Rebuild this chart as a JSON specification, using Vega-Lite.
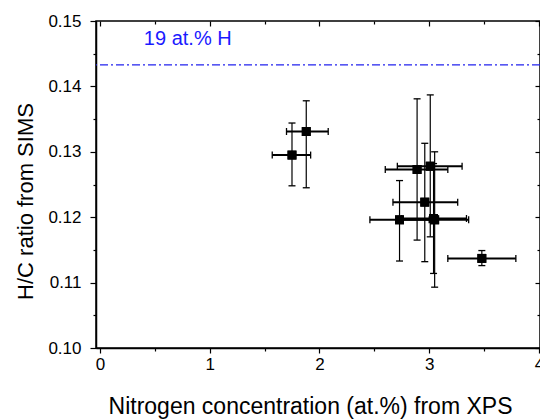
{
  "$schema": "https://vega.github.io/schema/vega-lite/v6.json",
  "width": 444,
  "height": 327,
  "autosize": {"type": "none"},
  "padding": {"left": 96, "top": 21, "right": 0, "bottom": 71},
  "background": "white",
  "datasets": {
    "pts": [
      {"n": 1.75, "hc": 0.1295, "nlo": 1.57, "nhi": 1.92, "hclo": 0.1248, "hchi": 0.1344},
      {"n": 1.88, "hc": 0.1331, "nlo": 1.70, "nhi": 2.08, "hclo": 0.1245, "hchi": 0.1378},
      {"n": 2.89, "hc": 0.1273, "nlo": 2.60, "nhi": 3.17, "hclo": 0.1165, "hchi": 0.1381},
      {"n": 3.01, "hc": 0.1278, "nlo": 2.71, "nhi": 3.30, "hclo": 0.1170, "hchi": 0.1387},
      {"n": 2.96, "hc": 0.1223, "nlo": 2.67, "nhi": 3.26, "hclo": 0.1132, "hchi": 0.1313},
      {"n": 2.73, "hc": 0.1196, "nlo": 2.46, "nhi": 3.00, "hclo": 0.1133, "hchi": 0.1256},
      {"n": 3.05, "hc": 0.1196, "nlo": 2.74, "nhi": 3.36, "hclo": 0.1093, "hchi": 0.1300},
      {"n": 3.04, "hc": 0.1198, "nlo": 2.75, "nhi": 3.34, "hclo": 0.1114, "hchi": 0.1282},
      {"n": 3.48, "hc": 0.1137, "nlo": 3.17, "nhi": 3.79, "hclo": 0.1126, "hchi": 0.1149}
    ],
    "ref": [
      {"h": 0.1433, "label": "19 at.% H", "lx": 0.40, "ly": 0.1463}
    ]
  },
  "data": {"name": "pts"},
  "config": {
    "view": {"stroke": "black", "strokeWidth": 1.5},
    "axis": {
      "grid": false,
      "domainColor": "black",
      "domainWidth": 1.5,
      "tickColor": "black",
      "tickWidth": 1.2,
      "labelFont": "Liberation Sans",
      "labelFontSize": 17,
      "labelColor": "black",
      "titleFont": "Liberation Sans",
      "titleFontSize": 22,
      "titleFontWeight": "normal",
      "titleColor": "black"
    }
  },
  "resolve": {"axis": {"x": "independent", "y": "independent"}},
  "layer": [
    {
      "mark": {"type": "point", "shape": "square", "filled": true, "color": "black", "size": 80, "opacity": 1},
      "encoding": {
        "x": {
          "field": "n", "type": "quantitative",
          "scale": {"domain": [-0.036, 4.01], "nice": false, "zero": false},
          "axis": {
            "orient": "bottom",
            "title": "Nitrogen concentration (at.%) from XPS",
            "titleFontSize": 23,
            "values": [0, 0.5, 1, 1.5, 2, 2.5, 3, 3.5, 4],
            "labelExpr": "datum.value % 1 === 0 ? format(datum.value, 'd') : ''",
            "tickSize": {"condition": {"test": "datum.value % 1 === 0", "value": 5}, "value": 3},
            "labelPadding": 3,
            "labelFlush": false,
            "labelOverlap": false,
            "titleX": 214,
            "titleY": 65,
            "titleBaseline": "alphabetic"
          }
        },
        "y": {
          "field": "hc", "type": "quantitative",
          "scale": {"domain": [0.1, 0.15], "nice": false, "zero": false},
          "axis": {
            "orient": "left",
            "title": "H/C ratio from SIMS",
            "values": [0.1, 0.105, 0.11, 0.115, 0.12, 0.125, 0.13, 0.135, 0.14, 0.145, 0.15],
            "labelExpr": "abs(datum.value*100 - round(datum.value*100)) < 0.000001 ? format(datum.value, '.2f') : ''",
            "tickSize": {"condition": {"test": "abs(datum.value*100 - round(datum.value*100)) < 0.000001", "value": 6}, "value": 3},
            "labelPadding": 9,
            "labelFlush": false,
            "labelOverlap": false,
            "titleX": -64,
            "titleY": 180,
            "titleBaseline": "alphabetic"
          }
        }
      }
    },
    {
      "mark": {"type": "rule", "color": "black", "strokeWidth": 1.2},
      "encoding": {
        "x": {"field": "n", "type": "quantitative", "axis": null},
        "y": {"field": "hclo", "type": "quantitative", "axis": null},
        "y2": {"field": "hchi"}
      }
    },
    {
      "mark": {"type": "rule", "color": "black", "strokeWidth": 2},
      "encoding": {
        "y": {"field": "hc", "type": "quantitative", "axis": null},
        "x": {"field": "nlo", "type": "quantitative", "axis": null},
        "x2": {"field": "nhi"}
      }
    },
    {
      "mark": {"type": "tick", "orient": "horizontal", "color": "black", "size": 7, "thickness": 1.3, "opacity": 1},
      "encoding": {
        "x": {"field": "n", "type": "quantitative", "axis": null},
        "y": {"field": "hclo", "type": "quantitative", "axis": null}
      }
    },
    {
      "mark": {"type": "tick", "orient": "horizontal", "color": "black", "size": 7, "thickness": 1.3, "opacity": 1},
      "encoding": {
        "x": {"field": "n", "type": "quantitative", "axis": null},
        "y": {"field": "hchi", "type": "quantitative", "axis": null}
      }
    },
    {
      "mark": {"type": "tick", "orient": "vertical", "color": "black", "size": 7, "thickness": 1.3, "opacity": 1},
      "encoding": {
        "x": {"field": "nlo", "type": "quantitative", "axis": null},
        "y": {"field": "hc", "type": "quantitative", "axis": null}
      }
    },
    {
      "mark": {"type": "tick", "orient": "vertical", "color": "black", "size": 7, "thickness": 1.3, "opacity": 1},
      "encoding": {
        "x": {"field": "nhi", "type": "quantitative", "axis": null},
        "y": {"field": "hc", "type": "quantitative", "axis": null}
      }
    },
    {
      "mark": {"type": "point", "shape": "square", "filled": true, "color": "black", "size": 80, "opacity": 1},
      "encoding": {
        "x": {"field": "n", "type": "quantitative", "axis": null},
        "y": {"field": "hc", "type": "quantitative", "axis": null}
      }
    },
    {
      "data": {"name": "ref"},
      "mark": {"type": "rule", "color": "#2222ee", "strokeWidth": 1.3, "strokeDash": [8, 3, 2, 3]},
      "encoding": {
        "y": {"field": "h", "type": "quantitative", "axis": null}
      }
    },
    {
      "data": {"name": "ref"},
      "mark": {"type": "text", "color": "#1a1aff", "font": "Liberation Sans", "fontSize": 20, "align": "left", "baseline": "alphabetic"},
      "encoding": {
        "text": {"field": "label"},
        "x": {
          "field": "lx", "type": "quantitative",
          "axis": {
            "orient": "top", "title": null, "labels": false, "domain": false,
            "values": [0, 0.5, 1, 1.5, 2, 2.5, 3, 3.5, 4],
            "tickSize": {"condition": {"test": "datum.value % 1 === 0", "value": -5}, "value": -3}
          }
        },
        "y": {
          "field": "ly", "type": "quantitative",
          "axis": {
            "orient": "right", "title": null, "labels": false, "domain": false,
            "values": [0.1, 0.105, 0.11, 0.115, 0.12, 0.125, 0.13, 0.135, 0.14, 0.145, 0.15],
            "tickSize": {"condition": {"test": "abs(datum.value*100 - round(datum.value*100)) < 0.000001", "value": -5}, "value": -3}
          }
        }
      }
    }
  ]
}
